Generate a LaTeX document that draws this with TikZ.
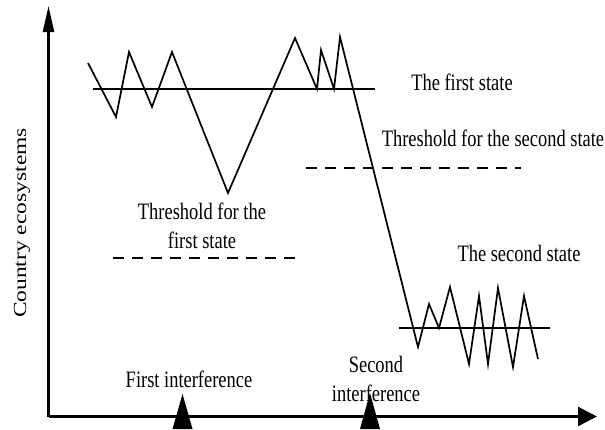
\documentclass[tikz,border=0pt]{standalone}
\usepackage{fontspec}
\setmainfont{Liberation Serif}[FakeStretch=0.785]
\newfontfamily\ylabfont{Liberation Serif}
\usetikzlibrary{arrows.meta}
\tikzset{
  axisline/.style={line width=2.3pt},
  curveline/.style={line width=1.7pt, line join=miter},
  levelline/.style={line width=1.8pt},
  threshline/.style={line width=2.2pt, dash pattern=on 11pt off 8pt},
  lbl/.style={inner sep=0pt, align=center, font=\fontsize{23.5}{29}\selectfont},
  marker/.style={fill=black}
}
\begin{document}
\begin{tikzpicture}[x=1pt,y=-1pt]
\useasboundingbox (0,0) rectangle (605,429);
% axes
\coordinate (O) at (48.5,416.5);
\coordinate (ytop) at (48.5,6);
\coordinate (xend) at (597,416.5);
\draw[axisline,-{Triangle[length=26pt,width=11pt]}] (O) -- (ytop);
\draw[axisline,-{Triangle[length=19pt,width=19pt]}] (O) -- (xend);
% levels
\draw[levelline] (93,89) -- (375,89);
\draw[levelline] (399,328) -- (550,328);
\draw[threshline] (113,258) -- (297,258);
\draw[threshline] (306,168) -- (521,168);
% trajectory
\draw[curveline] (88,63) -- (116,117) -- (129,52) -- (152,107) -- (172,52)
  -- (228,193) -- (295,38) -- (317,89) -- (321,50) -- (334,89) -- (340,37)
  -- (418,347) -- (429,304) -- (439,328) -- (450,287) -- (469,364)
  -- (479,296) -- (488,364) -- (498,288) -- (513,367) -- (524,296) -- (538,359);
% interference markers
\fill[marker] (172.5,429) -- (182.5,394) -- (192.5,429) -- cycle;
\fill[marker] (360,429) -- (370,393) -- (380,429) -- cycle;
% labels
\node[lbl] (first) at (462,82) {The first state};
\node[lbl] (th2) at (493,138) {Threshold for the second state};
\node[lbl] (th1) at (202,226) {Threshold for the\\first state};
\node[lbl] (second) at (519,253) {The second state};
\node[lbl] (int1) at (189,379) {First interference};
\node[lbl] (int2) at (376,379) {Second\\interference};
\node[inner sep=0pt, font=\ylabfont\fontsize{23.5}{29}\selectfont, transform shape, xscale=0.785, rotate=90] (ylab) at (22,223) {Country ecosystems};
\end{tikzpicture}
\end{document}
